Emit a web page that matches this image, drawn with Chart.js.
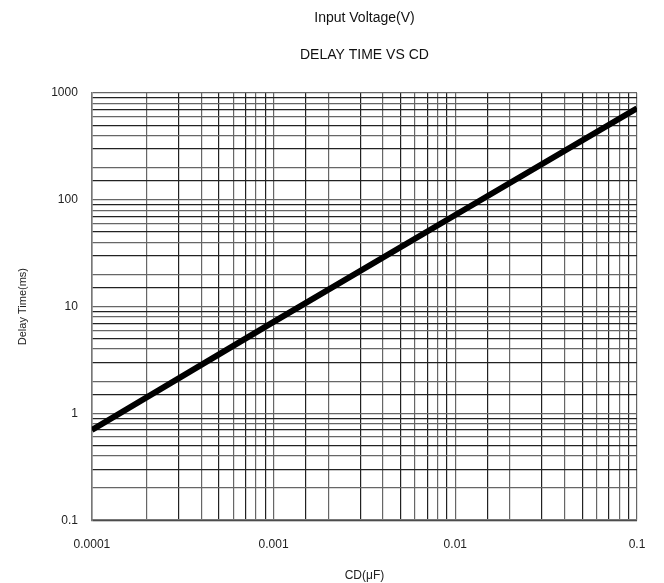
<!DOCTYPE html>
<html lang="en">
<head>
  <meta charset="UTF-8">
  <title>Delay Time vs CD</title>
  <script src="https://cdn.jsdelivr.net/npm/chart.js@4.4.0"></script>
  <style>
    body {
      margin: 0;
      background: #fff;
    }
    .chart-block {
      width: 664px;
      height: 583px;
    }
  </style>
</head>
<body>
  <div class="chart-block">
    <canvas id="chartDelay"></canvas>
  </div>

  <script>
    const titleLines = ['Input Voltage(V)', 'DELAY TIME VS CD'];
    const cdValues = [0.0001, 0.001, 0.01, 0.1];
    const delayValues = [0.7, 7.2, 72, 720];

    // draw both title lines centred over the plot area
    const titlePlugin = {
      id: 'plotTitle',
      afterDraw(chart) {
        const ctx = chart.ctx;
        const area = chart.chartArea;
        const cx = (area.left + area.right) / 2;
        ctx.save();
        ctx.fillStyle = '#111';
        ctx.font = '14px "Liberation Sans", Arial, sans-serif';
        ctx.textAlign = 'center';
        ctx.textBaseline = 'middle';
        ctx.fillText(titleLines[0], cx, 18);
        ctx.fillText(titleLines[1], cx, 55);
        ctx.restore();
      }
    };

    function decadeLabel(value) {
      const p = Math.log10(value);
      if (Math.abs(p - Math.round(p)) < 1e-9) {
        return String(Number(value.toPrecision(1)));
      }
      return '';
    }

    new Chart(document.getElementById('chartDelay'), {
      type: 'line',
      data: {
        datasets: [
          {
            label: 'Delay Time',
            data: cdValues.map((x, i) => ({ x: x, y: delayValues[i] })),
            borderColor: '#000',
            borderWidth: 6,
            pointRadius: 0,
            tension: 0
          }
        ]
      },
      options: {
        responsive: true,
        maintainAspectRatio: false,
        animation: false,
        layout: {
          padding: { top: 93, right: 27, left: 16, bottom: 0 }
        },
        plugins: {
          legend: { display: false },
          tooltip: { enabled: false }
        },
        scales: {
          x: {
            type: 'logarithmic',
            min: 0.0001,
            max: 0.1,
            grid: {
              color: ctx => (ctx.index % 2 === 0 ? '#222' : '#666'),
              lineWidth: 1.2,
              drawTicks: false
            },
            border: { color: '#777', width: 1.5 },
            ticks: {
              autoSkip: false,
              maxRotation: 0,
              padding: 17,
              color: '#222',
              font: { size: 12, family: '"Liberation Sans", Arial, sans-serif' },
              callback: value => decadeLabel(value)
            },
            title: {
              display: true,
              text: 'CD(\u03bcF)',
              color: '#222',
              font: { size: 12, family: '"Liberation Sans", Arial, sans-serif' },
              padding: { top: 0, bottom: 0 }
            }
          },
          y: {
            type: 'logarithmic',
            min: 0.1,
            max: 1000,
            grid: {
              color: ctx => (ctx.index % 2 === 0 ? '#222' : '#666'),
              lineWidth: 1.2,
              drawTicks: false
            },
            border: { color: '#777', width: 1.5 },
            ticks: {
              autoSkip: false,
              padding: 14,
              color: '#222',
              font: { size: 12, family: '"Liberation Sans", Arial, sans-serif' },
              callback: value => decadeLabel(value)
            },
            title: {
              display: true,
              text: 'Delay Time(ms)',
              color: '#222',
              font: { size: 11, family: '"Liberation Sans", Arial, sans-serif' },
              padding: { top: 0, bottom: 8 }
            }
          }
        }
      },
      plugins: [titlePlugin]
    });
  </script>
</body>
</html>
